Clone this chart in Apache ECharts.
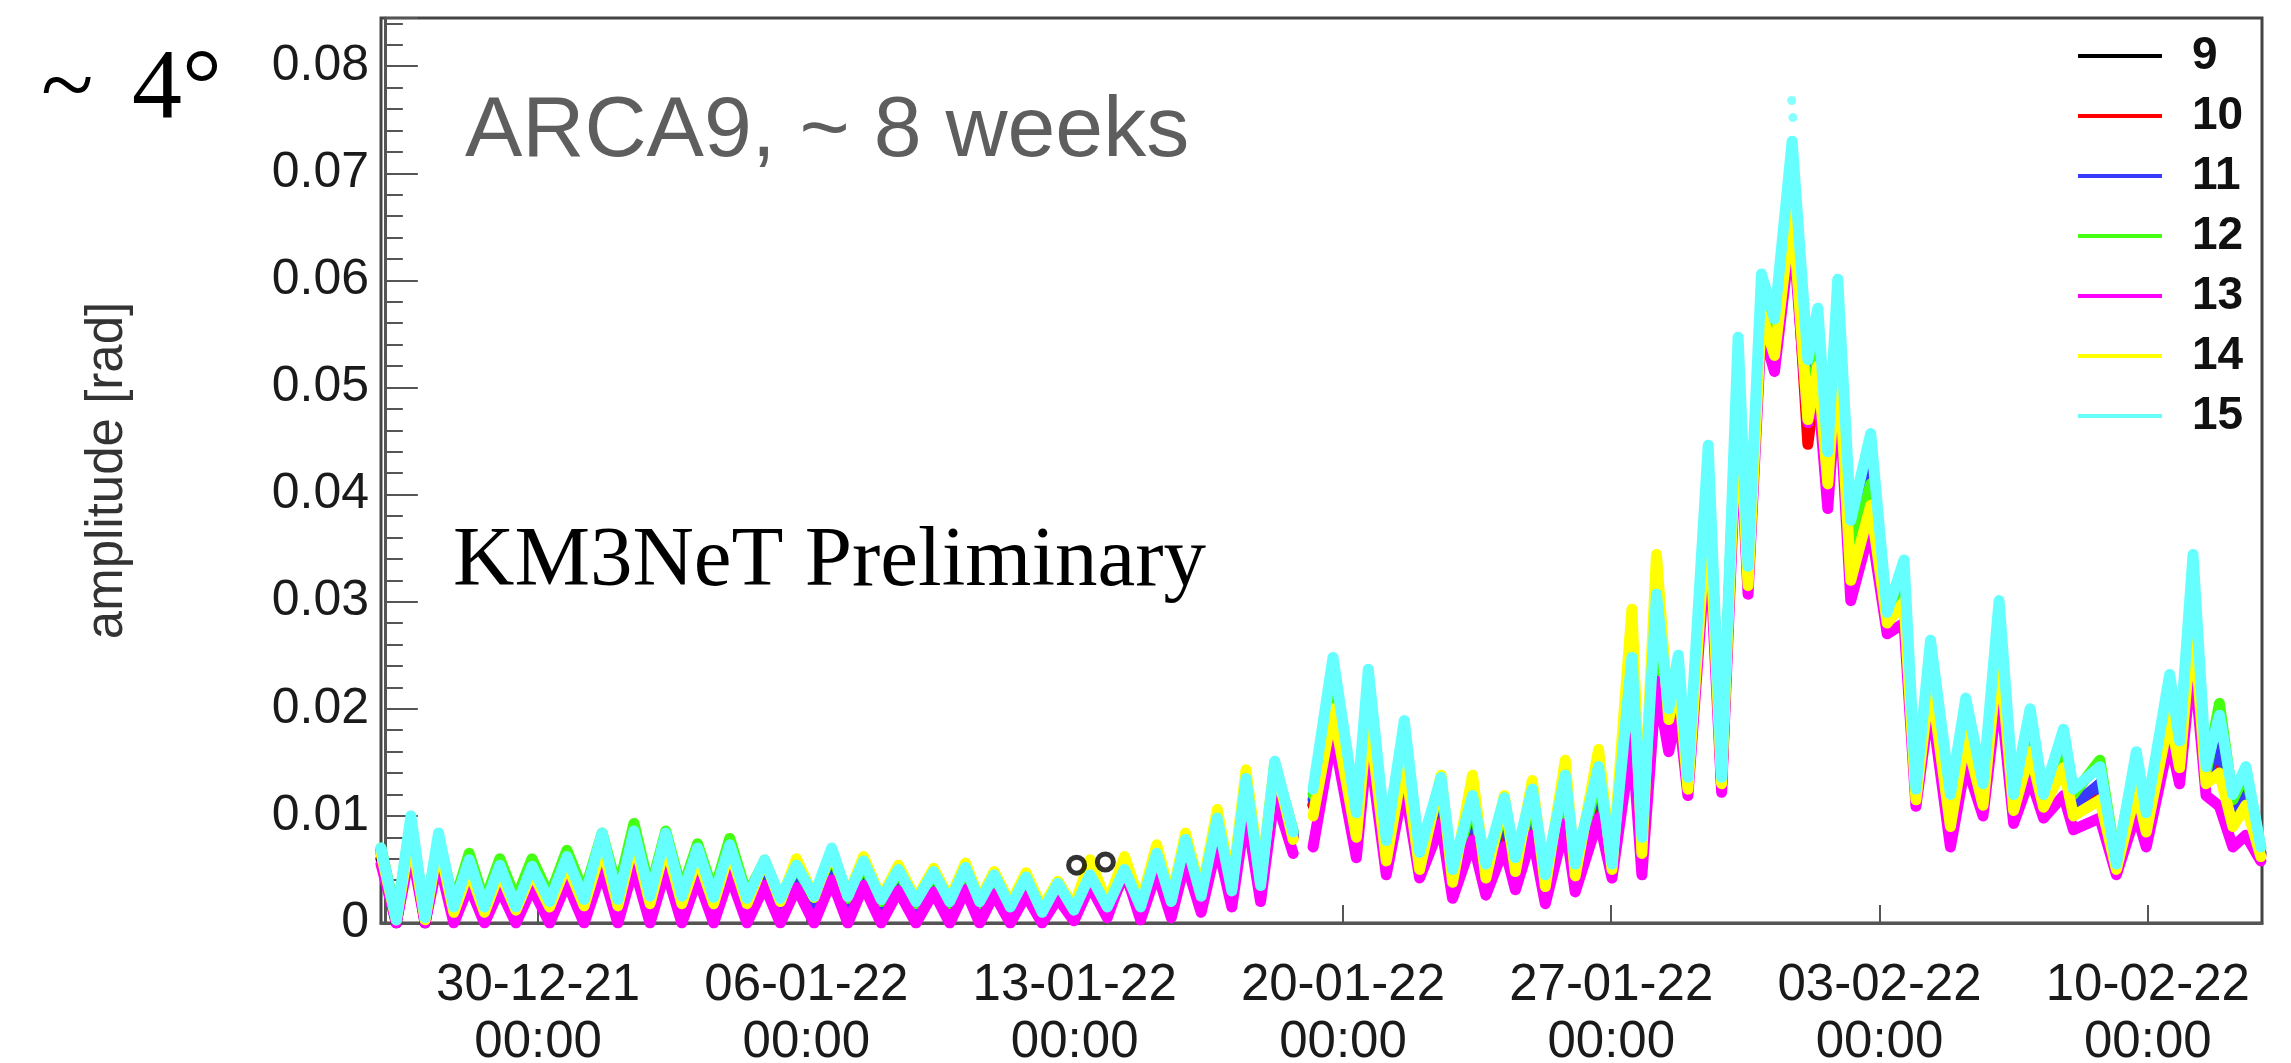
<!DOCTYPE html>
<html>
<head>
<meta charset="utf-8">
<script src="https://cdn.jsdelivr.net/npm/echarts@6/dist/echarts.min.js"></script>
<style>
html,body{margin:0;padding:0;background:#fff;}
#chart{width:2291px;height:1063px;}
</style>
</head>
<body>
<div id="chart"></div>
<script>
// time of each sample: days since 26-12-21 00:00 (null value = data gap)
const days = [-0.1, 0.3, 0.68, 1.05, 1.4, 1.8, 2.2, 2.6, 3.0, 3.42,
  3.84, 4.3, 4.75, 5.2, 5.67, 6.08, 6.5, 6.92, 7.33, 7.75,
  8.16, 8.58, 9.0, 9.45, 9.91, 10.32, 10.74, 11.2, 11.66, 12.08,
  12.49, 12.95, 13.4, 13.86, 14.32, 14.74, 15.15, 15.52, 15.9, 16.32,
  16.73, 17.15, 17.56, 17.98, 18.4, 18.85, 19.3, 19.72, 20.14, 20.52,
  20.89, 21.3, 21.72, 22.1, 22.47, 22.85, 23.22, 23.7,
  23.95,
  24.22, 24.74, 25.35, 25.66, 26.13, 26.6, 27.0, 27.56, 27.86, 28.38,
  28.73, 29.21, 29.5, 29.94, 30.28, 30.8, 31.06, 31.67, 32.02, 32.54,
  32.8, 33.18, 33.5, 33.75, 34.0, 34.53, 34.88, 35.31, 35.57, 35.92,
  36.26, 36.72, 37.13, 37.39, 37.65, 37.91, 38.25, 38.77, 39.2, 39.64,
  39.95, 40.33, 40.85, 41.25, 41.7, 42.12, 42.5, 42.93, 43.28, 43.8,
  44.06, 44.75, 45.18, 45.7, 45.96, 46.57, 46.83, 47.18, 47.52, 47.87,
  48.22, 48.56, 48.95];

// amplitudes in mrad (1e-3 rad), one array per series
const amp9_mrad = [6.0, 0.0, 8.0, 0.0, 7.0, 0.3, 4.5, 0.3, 4.0, 0.3,
  4.0, 0.3, 4.8, 0.4, 6.5, 0.4, 6.8, 0.5, 6.5, 0.5,
  5.5, 0.5, 5.8, 0.4, 4.5, 0.4, 4.2, 0.4, 5.2, 0.4,
  4.3, 0.3, 3.8, 0.2, 3.6, 0.2, 3.8, 0.2, 3.4, 0.2,
  3.2, 0.1, 2.8, 0.3, 5.5, 1.0, 5.8, 0.6, 5.5, 0.8,
  6.6, 1.5, 8.5, 2.0, 12.0, 2.5, 13.5, 8.5,
  null,
  11.0, 22.0, 8.5, 21.5, 6.0, 17.5, 5.2, 12.5, 3.2, 11.0,
  3.5, 10.5, 4.0, 11.5, 2.8, 12.5, 3.8, 14.0, 4.6, 22.0,
  6.0, 28.0, 18.0, 24.0, 12.8, 42.0, 13.0, 52.0, 32.0, 58.0,
  54.0, 70.9, 51.6, 54.0, 42.0, 56.0, 34.0, 42.0, 28.5, 31.5,
  11.8, 24.5, 10.0, 19.0, 11.5, 28.0, 10.5, 18.0, 11.0, 16.0,
  10.5, 13.0, 5.0, 14.0, 9.0, 21.0, 15.5, 31.0, 13.5, 17.0,
  10.0, 12.5, 6.5];
const amp10_mrad = [6.5, 0.3, 8.5, 0.2, 7.5, 0.8, 5.0, 0.8, 4.5, 0.8,
  4.5, 1.0, 5.2, 1.0, 7.0, 1.0, 7.5, 1.2, 7.2, 1.2,
  6.0, 1.2, 6.3, 1.0, 5.0, 1.0, 4.6, 1.0, 5.8, 1.0,
  4.8, 0.9, 4.2, 0.8, 4.0, 0.8, 4.3, 0.8, 3.8, 0.6,
  3.6, 0.4, 3.2, 0.6, 4.0, 1.0, 4.6, 1.0, 5.8, 1.4,
  7.0, 2.0, 9.0, 2.6, 12.5, 3.0, 14.0, 8.0,
  null,
  11.0, 21.0, 8.5, 20.5, 6.0, 16.0, 5.2, 12.0, 3.5, 10.5,
  3.8, 10.0, 4.3, 11.0, 3.0, 12.0, 4.0, 13.0, 4.8, 21.0,
  6.0, 27.0, 18.0, 23.0, 12.5, 41.0, 12.8, 51.0, 31.5, 57.0,
  53.0, 68.0, 44.7, 52.0, 41.0, 54.0, 33.0, 40.0, 28.0, 30.5,
  11.5, 23.5, 9.5, 18.0, 11.0, 27.0, 10.5, 17.5, 10.8, 15.5,
  10.5, 12.5, 5.0, 13.5, 8.8, 20.5, 15.0, 30.0, 13.0, 16.0,
  9.5, 12.0, 6.3];
const amp11_mrad = [6.8, 0.3, 9.0, 0.3, 7.8, 1.0, 5.3, 1.0, 4.8, 1.0,
  4.8, 1.2, 5.5, 1.3, 7.5, 1.3, 8.0, 1.5, 7.6, 1.5,
  6.3, 1.5, 6.6, 1.4, 5.3, 1.3, 4.9, 1.4, 6.2, 1.4,
  5.2, 1.2, 4.5, 1.1, 4.3, 1.1, 4.6, 1.1, 4.1, 0.9,
  3.9, 0.6, 3.4, 0.8, 4.2, 1.2, 4.8, 1.2, 6.0, 1.6,
  7.3, 2.2, 9.3, 2.8, 13.0, 3.3, 14.5, 8.2,
  null,
  11.5, 22.0, 9.0, 21.5, 6.5, 17.0, 5.6, 12.5, 3.8, 11.0,
  4.2, 10.5, 4.8, 11.5, 3.4, 12.5, 4.4, 13.5, 5.0, 22.0,
  6.5, 28.0, 18.5, 23.5, 13.0, 42.0, 13.2, 52.0, 32.0, 58.0,
  54.0, 69.0, 48.0, 54.0, 42.0, 56.0, 34.0, 42.0, 28.5, 31.5,
  12.0, 24.5, 10.5, 19.0, 11.5, 28.0, 11.0, 18.0, 11.2, 16.0,
  11.0, 13.0, 5.2, 14.0, 9.2, 21.0, 15.5, 31.0, 13.5, 17.0,
  10.0, 12.5, 6.6];
const amp12_mrad = [7.0, 0.5, 9.5, 0.5, 8.0, 1.8, 6.5, 2.0, 6.0, 2.2,
  6.0, 2.5, 6.8, 2.8, 8.4, 3.0, 9.3, 3.0, 8.6, 3.0,
  7.4, 2.8, 7.9, 2.6, 5.8, 2.3, 5.3, 2.4, 6.5, 2.3,
  5.5, 2.0, 4.8, 1.8, 4.6, 1.8, 5.0, 1.8, 4.3, 1.3,
  4.1, 0.9, 3.6, 1.0, 4.4, 1.4, 5.0, 1.5, 6.3, 2.0,
  7.6, 2.6, 9.6, 3.2, 13.3, 3.6, 14.8, 8.6,
  null,
  12.0, 22.5, 9.5, 22.0, 7.0, 17.5, 6.0, 13.0, 4.3, 11.5,
  4.8, 11.0, 5.3, 12.0, 3.8, 13.0, 4.8, 14.0, 5.2, 23.0,
  7.0, 29.0, 19.0, 24.0, 13.2, 42.5, 13.4, 52.5, 32.5, 58.5,
  54.5, 68.5, 47.5, 53.0, 41.5, 55.0, 34.0, 41.0, 28.5, 31.5,
  12.0, 25.0, 11.0, 19.5, 12.0, 29.0, 11.5, 19.0, 11.8, 17.0,
  12.0, 15.2, 5.6, 15.5, 10.0, 22.6, 16.5, 32.5, 14.0, 20.5,
  11.5, 14.1, 7.0];
const amp13_mrad = [5.5, 0.0, 7.0, 0.0, 6.0, 0.0, 3.5, 0.0, 3.2, 0.0,
  3.3, 0.0, 3.8, 0.0, 5.0, 0.0, 5.3, 0.0, 5.0, 0.0,
  4.2, 0.0, 4.5, 0.0, 3.5, 0.0, 3.3, 0.0, 4.0, 0.0,
  3.5, 0.0, 3.0, 0.0, 2.9, 0.0, 3.1, 0.0, 2.7, 0.0,
  2.6, 0.0, 2.3, 0.2, 3.5, 0.5, 5.0, 0.3, 4.8, 0.5,
  5.8, 1.0, 7.5, 1.5, 10.5, 2.0, 12.0, 6.5,
  null,
  7.1, 17.8, 6.1, 17.3, 4.5, 13.0, 4.2, 9.3, 2.3, 7.7,
  2.6, 7.1, 3.1, 8.2, 1.8, 9.3, 2.9, 9.8, 4.2, 17.3,
  4.5, 22.6, 16.0, 20.0, 11.9, 37.6, 12.2, 49.4, 30.7, 55.8,
  51.5, 65.4, 46.7, 50.0, 38.7, 51.5, 30.1, 37.1, 27.0, 28.0,
  10.9, 21.0, 7.1, 15.0, 10.0, 22.6, 9.3, 13.6, 9.8, 11.9,
  8.7, 9.8, 4.5, 10.3, 7.1, 17.3, 13.0, 25.3, 11.9, 10.9,
  7.1, 8.2, 5.8];
const amp14_mrad = [6.5, 0.3, 8.5, 0.3, 7.5, 1.0, 5.0, 1.0, 4.8, 1.2,
  4.8, 1.5, 5.5, 1.6, 7.2, 1.6, 7.8, 1.8, 7.4, 1.8,
  6.2, 1.8, 6.8, 1.8, 5.9, 2.0, 6.0, 2.4, 6.8, 2.5,
  6.2, 2.3, 5.4, 2.2, 5.1, 2.2, 5.6, 2.2, 4.8, 1.8,
  4.7, 1.4, 3.9, 1.5, 5.9, 1.8, 6.2, 1.8, 7.3, 2.2,
  8.4, 2.8, 10.6, 3.3, 14.3, 3.8, 15.0, 7.8,
  null,
  10.0, 20.0, 8.0, 20.0, 5.8, 15.5, 5.0, 13.8, 3.8, 13.8,
  4.2, 11.9, 4.8, 13.3, 3.4, 15.2, 4.4, 16.2, 5.0, 29.3,
  6.5, 34.4, 19.0, 23.0, 12.5, 40.0, 13.0, 51.0, 31.5, 57.0,
  53.0, 67.0, 47.0, 52.0, 41.0, 54.0, 32.0, 39.0, 28.0, 30.0,
  11.5, 23.0, 9.0, 17.5, 11.0, 26.0, 10.5, 16.0, 10.8, 14.5,
  10.0, 11.5, 5.0, 12.5, 8.5, 19.5, 14.5, 29.0, 13.0, 14.0,
  9.0, 11.0, 6.2];
const amp15_mrad = [7.0, 0.3, 10.0, 0.5, 8.4, 1.5, 5.9, 1.5, 5.4, 1.5,
  5.3, 2.0, 6.2, 2.2, 8.4, 2.2, 8.6, 2.5, 8.4, 2.5,
  7.0, 2.4, 7.3, 2.3, 5.9, 2.3, 5.4, 2.5, 7.0, 2.5,
  5.8, 2.2, 5.0, 2.0, 4.8, 2.0, 5.2, 2.0, 4.5, 1.5,
  4.3, 1.0, 3.7, 1.2, 4.5, 1.5, 5.0, 1.5, 6.5, 2.0,
  7.8, 2.5, 9.8, 3.0, 13.5, 3.5, 15.1, 8.5,
  null,
  12.5, 24.8, 10.3, 23.7, 7.7, 18.9, 6.6, 13.6, 5.0, 11.9,
  5.5, 11.7, 6.1, 12.5, 4.5, 13.8, 5.5, 14.6, 5.5, 24.8,
  8.0, 30.7, 20.0, 25.0, 13.6, 44.6, 13.6, 54.7, 33.3, 60.6,
  56.4, 73.0, 52.6, 57.4, 44.0, 60.1, 37.6, 45.7, 29.0, 33.9,
  12.5, 26.4, 12.0, 21.0, 13.0, 30.1, 12.0, 20.0, 12.0, 18.1,
  12.5, 14.6, 5.5, 16.0, 10.3, 23.2, 17.0, 34.4, 14.6, 19.4,
  12.0, 14.6, 7.1];
// isolated points standing out of the bands: [day, mrad]
const amp15_outliers = [[36.71, 76.8], [36.74, 75.2]];
const amp9_outliers = [[18.05, 5.4], [18.8, 5.7]];

const seriesNames = ['9', '10', '11', '12', '13', '14', '15'];
const seriesValues = [amp9_mrad, amp10_mrad, amp11_mrad, amp12_mrad, amp13_mrad, amp14_mrad, amp15_mrad];
const seriesColors = ['#000000', '#ff0000', '#3a3aff', '#44ff11', '#ff00ff', '#ffff00', '#66ffff'];

const xTickDays = [4, 11, 18, 25, 32, 39, 46];
const xTickLabels = ['30-12-21\n00:00', '06-01-22\n00:00', '13-01-22\n00:00', '20-01-22\n00:00',
  '27-01-22\n00:00', '03-02-22\n00:00', '10-02-22\n00:00'];

const chart = echarts.init(document.getElementById('chart'), null, {renderer: 'canvas'});

const series = seriesNames.map((name, k) => ({
  name: name,
  type: 'line',
  showSymbol: false,
  symbol: 'none',
  connectNulls: false,
  lineStyle: {color: seriesColors[k], width: 11, join: 'round', cap: 'round'},
  itemStyle: {color: seriesColors[k]},
  z: 2 + k,
  animation: false,
  data: days.map((d, i) => [d, seriesValues[k][i] == null ? null : seriesValues[k][i] / 1000])
}));
series.push({
  name: '15',
  type: 'scatter',
  symbol: 'circle',
  symbolSize: 9,
  itemStyle: {color: seriesColors[6]},
  z: 9,
  animation: false,
  data: amp15_outliers.map(p => [p[0], p[1] / 1000])
});
series.push({
  name: '9',
  type: 'scatter',
  symbol: 'circle',
  symbolSize: 16,
  itemStyle: {color: 'rgba(0,0,0,0)', borderColor: '#000000', borderWidth: 5},
  z: 10,
  animation: false,
  data: amp9_outliers.map(p => [p[0], p[1] / 1000])
});

chart.setOption({
  animation: false,
  backgroundColor: '#ffffff',
  grid: {left: 381, right: 29, top: 18, bottom: 140, show: true, borderColor: '#444', borderWidth: 3,
    containLabel: false, outerBoundsMode: 'none'},
  xAxis: {
    type: 'value',
    min: -0.1,
    max: 48.98,
    axisLine: {show: true, lineStyle: {color: '#555', width: 3}},
    axisTick: {show: true, inside: true, length: 18, customValues: xTickDays, lineStyle: {color: '#555', width: 2}},
    axisLabel: {
      show: true, customValues: xTickDays, margin: 34,
      fontFamily: 'Liberation Sans', fontSize: 51, lineHeight: 57, color: '#1a1a1a',
      formatter: function (v) { const i = xTickDays.indexOf(Math.round(v)); return i >= 0 ? xTickLabels[i] : ''; }
    },
    splitLine: {show: false}
  },
  yAxis: {
    type: 'value',
    min: 0,
    max: 0.0845,
    interval: 0.01,
    name: 'amplitude [rad]',
    nameLocation: 'middle',
    nameGap: 248,
    nameTextStyle: {fontFamily: 'Liberation Sans', fontSize: 51, color: '#333'},
    axisLine: {show: true, lineStyle: {color: '#555', width: 3}},
    axisTick: {show: true, inside: true, length: 33, lineStyle: {color: '#555', width: 2}},
    minorTick: {show: true, splitNumber: 5, length: 18, lineStyle: {color: '#555', width: 2}},
    axisLabel: {
      fontFamily: 'Liberation Sans', fontSize: 50, color: '#1a1a1a', margin: 12, showMaxLabel: false,
      formatter: function (v) { return v === 0 ? '0' : v.toFixed(2); }
    },
    splitLine: {show: false}
  },
  legend: {
    show: true,
    orient: 'vertical',
    left: 2073,
    top: 27,
    icon: 'rect',
    itemWidth: 84,
    itemHeight: 4,
    itemGap: 12,
    data: seriesNames,
    textStyle: {fontFamily: 'Liberation Sans', fontSize: 46, fontWeight: 'bold', color: '#111', lineHeight: 48, padding: [0, 0, 0, 25]}
  },
  graphic: [
    {type: 'text', left: 41, top: 43, style: {text: '~', font: '97px "Liberation Serif"', fill: '#000'}},
    {type: 'text', left: 132, top: 41, style: {text: '4°', font: '100px "Liberation Serif"', fill: '#000'}},
    {type: 'text', left: 465, top: 89, style: {text: 'ARCA9, ~ 8 weeks', font: '86px "Liberation Sans"', fill: '#5e5e5e'}},
    {type: 'text', left: 453, top: 520, style: {text: 'KM3NeT Preliminary', font: '85px "Liberation Serif"', fill: '#000'}}
  ],
  series: series
});
</script>
</body>
</html>
